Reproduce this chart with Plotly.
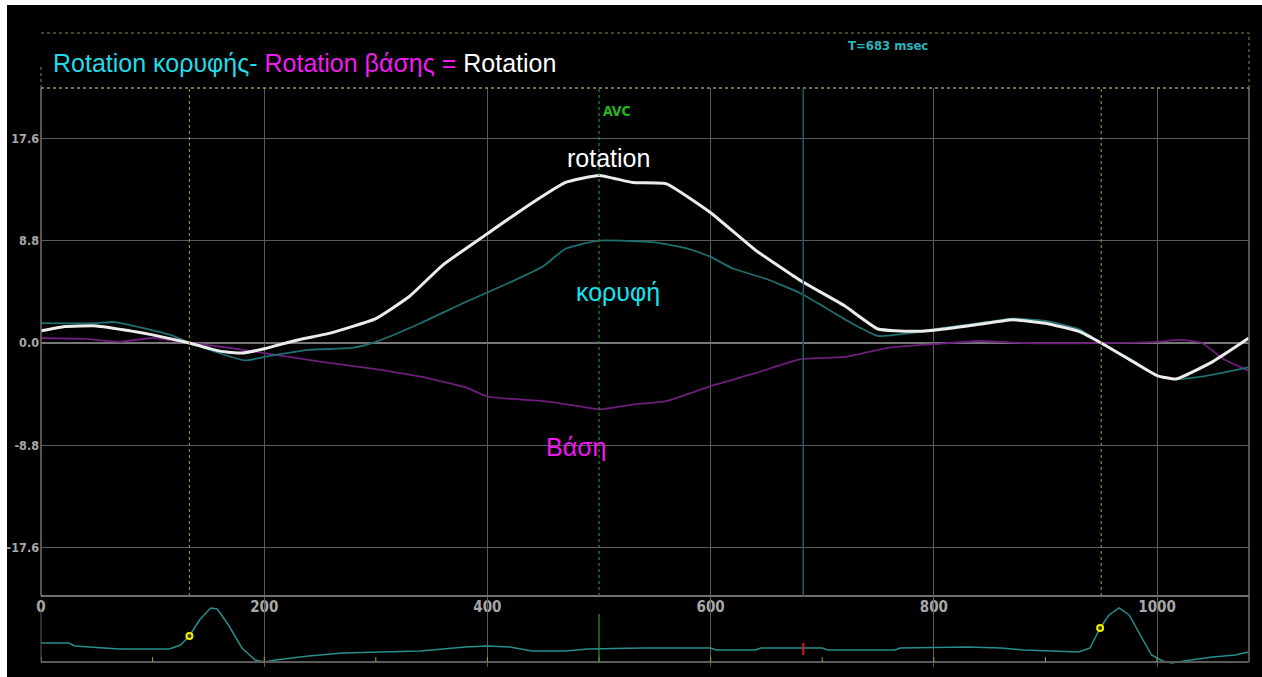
import plotly.graph_objects as go

# ---- time base (ms) and rotation traces (degrees) ----
apex_ms = [0, 50, 66, 116, 133, 183, 200, 240, 280, 300, 340, 380, 420, 450, 470, 500,
           550, 580, 600, 620, 650, 680, 700, 730, 750, 780, 800, 840, 870, 900, 930,
           950, 980, 1000, 1017, 1040, 1082]
apex_deg = [1.7, 1.7, 1.8, 0.7, 0.0, -1.5, -1.2, -0.6, -0.4, 0.1, 1.7, 3.5, 5.2, 6.6, 8.1, 8.8,
            8.65, 8.1, 7.4, 6.4, 5.5, 4.3, 3.2, 1.5, 0.6, 0.87, 1.2, 1.7, 2.1, 1.9, 1.2,
            0.0, -1.6, -2.8, -3.1, -2.9, -2.1]

base_ms = [0, 40, 70, 100, 133, 170, 200, 250, 300, 340, 380, 400, 450, 480, 500, 530,
           560, 600, 640, 680, 720, 760, 800, 840, 880, 950, 1000, 1020, 1040, 1060, 1082]
base_deg = [0.43, 0.35, 0.1, 0.43, 0.0, -0.43, -0.87, -1.6, -2.25, -2.9, -3.8, -4.6, -5.0,
            -5.4, -5.7, -5.3, -5.0, -3.7, -2.6, -1.4, -1.2, -0.4, -0.1, 0.17, 0.0, 0.0,
            0.1, 0.26, 0.0, -1.4, -2.4]

twist_ms = [0, 20, 50, 80, 100, 133, 160, 180, 200, 230, 260, 300, 330, 360, 400, 430,
            470, 500, 530, 560, 600, 640, 680, 720, 750, 780, 800, 840, 870, 900, 930,
            950, 980, 1000, 1017, 1050, 1082]
twist_deg = [1.04, 1.4, 1.47, 1.04, 0.7, 0.0, -0.7, -0.87, -0.5, 0.26, 0.87, 2.1, 4.0, 6.7,
             9.4, 11.4, 13.8, 14.4, 13.8, 13.7, 11.2, 8.0, 5.4, 3.2, 1.2, 1.0, 1.1, 1.6,
             2.0, 1.7, 1.0, 0.0, -1.7, -2.8, -3.1, -1.6, 0.4]

# ---- ECG strip (arbitrary units) ----
ecg_ms = [0, 25, 30, 60, 70, 115, 125, 133, 142, 152, 158, 168, 180, 192, 200, 210, 240,
          270, 300, 340, 360, 380, 400, 420, 440, 470, 490, 540, 600, 605, 640, 645, 700,
          705, 765, 770, 830, 860, 880, 900, 915, 930, 940, 949, 957, 966, 975, 985, 995,
          1005, 1013, 1030, 1050, 1070, 1082]
ecg_val = [1.9, 1.9, 1.6, 1.4, 1.3, 1.3, 1.7, 2.6, 4.2, 5.4, 5.3, 3.7, 1.4, 0.2, 0.0, 0.2,
           0.6, 0.9, 1.0, 1.1, 1.3, 1.5, 1.6, 1.5, 1.1, 1.1, 1.3, 1.4, 1.4, 1.2, 1.2, 1.4,
           1.4, 1.2, 1.2, 1.4, 1.5, 1.4, 1.2, 1.1, 1.0, 1.0, 1.4, 3.4, 4.7, 5.4, 4.7, 2.7,
           0.7, 0.1, -0.1, 0.2, 0.5, 0.7, 1.0]
ecg_marker_ms = [133, 949]
ecg_marker_val = [2.6, 3.4]

# ---- events and axes ----
y_ticks = [-17.6, -8.8, 0.0, 8.8, 17.6]
y_tick_text = ["-17.6", "-8.8", "0.0", "8.8", "17.6"]
x_ticks = [0, 200, 400, 600, 800, 1000]
x_minor = [0, 100, 200, 300, 400, 500, 600, 700, 800, 900, 1000]
avc_ms = 500
cursor_ms = 683
marker_lines_ms = [133, 950]
x_range = [0, 1082.4]
y_range = [-21.75, 21.92]
ecg_range = [-0.5, 6.5]

W, H = 1262, 677


def px(x):
    return x / W


def py(y):
    return 1 - y / H


NARROW = "Liberation Sans Narrow, DejaVu Sans Condensed, Arial"
X_TICK_FONT = dict(family=NARROW, size=15, color="#a8a8a8", weight="bold")
Y_TICK_FONT = dict(family=NARROW, size=12.5, color="#a8a8a8", weight="bold")
LABEL_FONT = "Liberation Sans, Arial"
GRID = "#5a5a5a"

fig = go.Figure()

fig.add_trace(go.Scatter(x=base_ms, y=base_deg, mode="lines", name="Βάση",
                         line=dict(color="#6c1f7a", width=1.8, shape="spline", smoothing=0.5)))
fig.add_trace(go.Scatter(x=apex_ms, y=apex_deg, mode="lines", name="κορυφή",
                         line=dict(color="#1f6f70", width=1.8, shape="spline", smoothing=0.5)))
fig.add_trace(go.Scatter(x=twist_ms, y=twist_deg, mode="lines", name="rotation",
                         line=dict(color="#ececec", width=3, shape="spline", smoothing=0.4)))

fig.add_trace(go.Scatter(x=ecg_ms, y=ecg_val, mode="lines", yaxis="y2",
                         line=dict(color="#2a8c8c", width=1.5)))
fig.add_trace(go.Scatter(x=ecg_marker_ms, y=ecg_marker_val, mode="markers", yaxis="y2",
                         marker=dict(color="#3a3a00", size=6,
                                     line=dict(color="#f0f000", width=2))))

fig.update_layout(
    width=W, height=H,
    margin=dict(l=0, r=0, t=0, b=0),
    paper_bgcolor="black", plot_bgcolor="black",
    showlegend=False,
    xaxis=dict(domain=[px(41), px(1249)], range=x_range, anchor="y",
               tickmode="array", tickvals=x_ticks, ticks="", showgrid=True,
               gridcolor=GRID, gridwidth=1, zeroline=False, showline=False,
               tickfont=X_TICK_FONT, automargin=False),
    yaxis=dict(domain=[py(596), py(88)], range=y_range, anchor="x",
               tickmode="array", tickvals=y_ticks, ticktext=y_tick_text, ticks="",
               showgrid=True, gridcolor=GRID, gridwidth=1,
               zeroline=True, zerolinecolor="#777777", zerolinewidth=2,
               showline=False, tickfont=Y_TICK_FONT, ticklabelstandoff=1,
               automargin=False),
    yaxis2=dict(domain=[py(667), py(597)], range=ecg_range, anchor="x",
                showgrid=False, zeroline=False, showticklabels=False, showline=False),
)

shapes = []
# white border of the image frame
shapes.append(dict(type="rect", xref="paper", yref="paper", x0=0, x1=px(7), y0=0, y1=1,
                   fillcolor="white", line_width=0, layer="above"))
shapes.append(dict(type="rect", xref="paper", yref="paper", x0=0, x1=1, y0=py(5), y1=1,
                   fillcolor="white", line_width=0, layer="above"))

# plot frame
frame = "#707070"
shapes.append(dict(type="line", xref="paper", yref="paper", x0=px(41), x1=px(41),
                   y0=py(596), y1=py(88), line=dict(color=frame, width=1.5)))
shapes.append(dict(type="line", xref="paper", yref="paper", x0=px(1249), x1=px(1249),
                   y0=py(662), y1=py(88), line=dict(color=frame, width=1.5)))
shapes.append(dict(type="line", xref="paper", yref="paper", x0=px(41), x1=px(1249),
                   y0=py(596), y1=py(596), line=dict(color=frame, width=2)))

# header box
hdr = dict(color="#8a8a40", width=1, dash="dot")
shapes.append(dict(type="line", xref="paper", yref="paper", x0=px(41), x1=px(1249),
                   y0=py(33), y1=py(33), line=hdr))
shapes.append(dict(type="line", xref="paper", yref="paper", x0=px(41), x1=px(1249),
                   y0=py(88), y1=py(88), line=dict(color="#9a9a48", width=1.5, dash="dot")))
shapes.append(dict(type="line", xref="paper", yref="paper", x0=px(1249), x1=px(1249),
                   y0=py(88), y1=py(33), line=hdr))
shapes.append(dict(type="line", xref="paper", yref="paper", x0=px(41), x1=px(41),
                   y0=py(88), y1=py(66), line=hdr))

# event lines in the rotation panel
for t in marker_lines_ms:
    shapes.append(dict(type="line", xref="x", yref="y", x0=t, x1=t, y0=y_range[0],
                       y1=y_range[1], line=dict(color="#8a8a3a", width=1.2, dash="dot")))
shapes.append(dict(type="line", xref="x", yref="y", x0=avc_ms, x1=avc_ms, y0=y_range[0],
                   y1=y_range[1], line=dict(color="#2a8a2a", width=1.2, dash="dot")))
shapes.append(dict(type="line", xref="x", yref="y", x0=cursor_ms, x1=cursor_ms,
                   y0=y_range[0], y1=y_range[1], line=dict(color="#1c5c5e", width=1.5)))

# ECG strip baseline, ticks and markers
shapes.append(dict(type="line", xref="paper", yref="paper", x0=px(41), x1=px(1249),
                   y0=py(662), y1=py(662), line=dict(color="#5a5a5a", width=2)))
shapes.append(dict(type="line", xref="paper", yref="paper", x0=px(41), x1=px(41),
                   y0=py(662), y1=py(608), line=dict(color="#5a5a5a", width=1)))
for t in x_minor:
    shapes.append(dict(type="line", xref="x", yref="paper", x0=t, x1=t,
                       y0=py(662), y1=py(657), line=dict(color="#a0a030", width=1)))
shapes.append(dict(type="line", xref="x", yref="paper", x0=avc_ms, x1=avc_ms,
                   y0=py(662), y1=py(614), line=dict(color="#22a022", width=1.2)))
shapes.append(dict(type="line", xref="x", yref="paper", x0=cursor_ms, x1=cursor_ms,
                   y0=py(655), y1=py(643), line=dict(color="#e01818", width=2)))

fig.update_layout(shapes=shapes)

annotations = [
    dict(xref="paper", yref="paper", x=px(51), y=py(63), xanchor="left", yanchor="middle",
         showarrow=False,
         text=("<span style='color:#22dbe8'>Rotation κορυφής- </span>"
               "<span style='color:#f01cf0'>Rotation βάσης = </span>"
               "<span style='color:#ffffff'>Rotation</span>"),
         font=dict(family=LABEL_FONT, size=25)),
    dict(xref="paper", yref="paper", x=px(888), y=py(46), xanchor="center", yanchor="middle",
         showarrow=False, text=f"T={cursor_ms} msec",
         font=dict(family=NARROW, size=13, color="#2ab4bc", weight="bold")),
    dict(xref="x", yref="paper", x=avc_ms, y=py(111), xanchor="left", yanchor="middle",
         xshift=2, showarrow=False, text="AVC",
         font=dict(family=NARROW, size=14, color="#22b822", weight="bold")),
    dict(xref="paper", yref="paper", x=px(608), y=py(158), xanchor="center",
         yanchor="middle", showarrow=False, text="rotation",
         font=dict(family=LABEL_FONT, size=25, color="#ffffff")),
    dict(xref="paper", yref="paper", x=px(618), y=py(292), xanchor="center",
         yanchor="middle", showarrow=False, text="κορυφή",
         font=dict(family=LABEL_FONT, size=25, color="#14e4f0")),
    dict(xref="paper", yref="paper", x=px(576), y=py(447), xanchor="center",
         yanchor="middle", showarrow=False, text="Βάση",
         font=dict(family=LABEL_FONT, size=25, color="#f018f0")),
]
fig.update_layout(annotations=annotations)

fig.write_html("out.html")
